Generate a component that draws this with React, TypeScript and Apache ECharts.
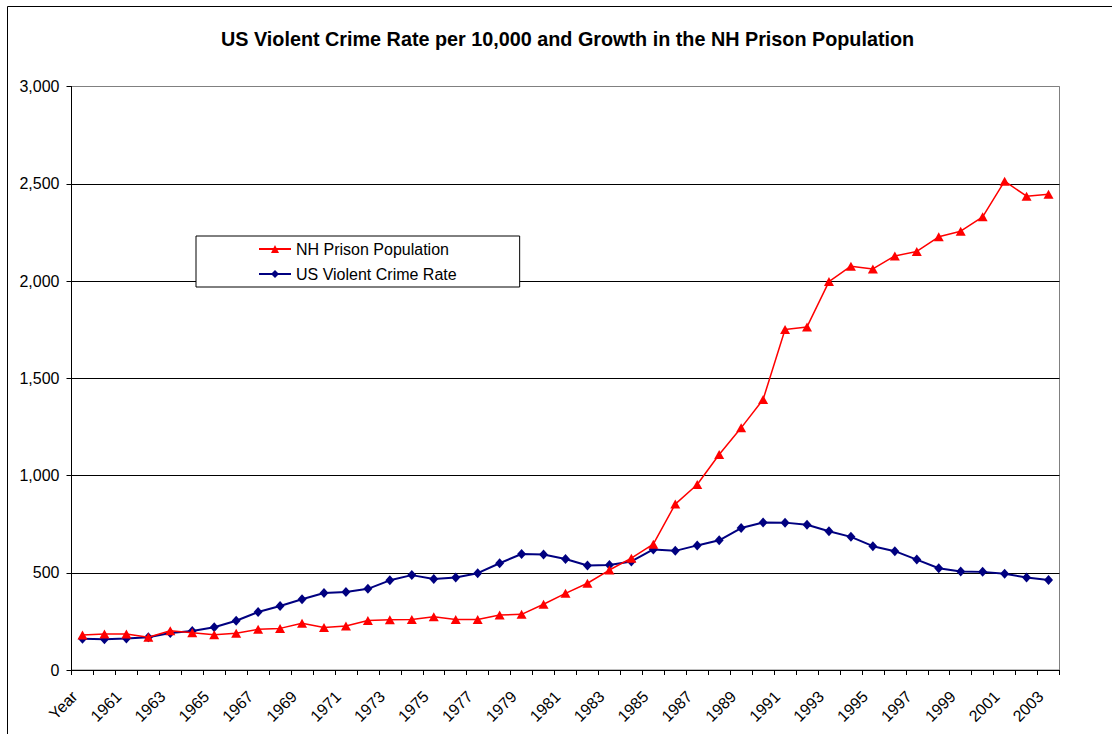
import React, { useEffect, useRef } from "react";
import * as echarts from "echarts";

const title = "US Violent Crime Rate per 10,000 and Growth in the NH Prison Population";

const categories = [
  "Year", "1960", "1961", "1962", "1963", "1964", "1965", "1966", "1967", "1968",
  "1969", "1970", "1971", "1972", "1973", "1974", "1975", "1976", "1977", "1978",
  "1979", "1980", "1981", "1982", "1983", "1984", "1985", "1986", "1987", "1988",
  "1989", "1990", "1991", "1992", "1993", "1994", "1995", "1996", "1997", "1998",
  "1999", "2000", "2001", "2002", "2003",
];

const nhPrison = [
  180, 185, 185, 168, 202, 192, 181, 189, 209, 214,
  240, 219, 226, 255, 258, 260, 274, 260, 260, 283,
  286, 338, 394, 446, 514, 575, 647, 853, 954, 1108,
  1245, 1391, 1751, 1764, 1997, 2076, 2062, 2129, 2152, 2227,
  2256, 2330, 2513, 2436, 2446,
];

const usCrime = [
  160.9, 158.1, 162.3, 168.2, 190.6, 200.2, 220.0, 253.2, 298.4, 328.7,
  363.5, 396.0, 401.0, 417.4, 461.1, 487.8, 467.8, 475.9, 497.8, 548.9,
  596.6, 594.3, 571.1, 537.7, 539.9, 558.1, 620.1, 612.5, 640.6, 666.9,
  729.6, 758.2, 757.7, 747.1, 713.6, 684.5, 636.6, 611.0, 567.6, 523.0,
  506.5, 504.5, 494.4, 475.8, 463.2,
];

const seriesNames = ["NH Prison Population", "US Violent Crime Rate"];
const yMin = 0;
const yMax = 3000;
const yStep = 500;

const FONT = "'Liberation Sans', Arial, Helvetica, sans-serif";

export default function App() {
  const ref = useRef<HTMLDivElement>(null);

  useEffect(() => {
    if (!ref.current) return;
    const chart = echarts.init(ref.current, undefined, { renderer: "svg" });
    chart.setOption({
      animation: false,
      backgroundColor: "#ffffff",
      textStyle: { fontFamily: FONT },
      title: {
        text: title,
        left: 216,
        top: 24,
        textStyle: { fontFamily: FONT, fontSize: 19.8, fontWeight: "bold", color: "#000" },
      },
      graphic: [
        {
          type: "rect",
          shape: { x: 7.5, y: 6.5, width: 1200, height: 800 },
          style: { fill: "none", stroke: "#000", lineWidth: 1 },
          silent: true,
          z: -1,
        },
      ],
      legend: {
        data: seriesNames,
        orient: "vertical",
        left: 196,
        top: 236,
        padding: [5, 63, 5, 62],
        itemWidth: 32,
        itemHeight: 10,
        itemGap: 9,
        backgroundColor: "#ffffff",
        borderColor: "#000",
        borderWidth: 1,
        borderRadius: 0,
        textStyle: { fontFamily: FONT, fontSize: 16, color: "#000", lineHeight: 16 },
      },
      grid: {
        left: 71.5,
        top: 86.5,
        right: 52.5,
        bottom: 64,
        show: true,
        borderColor: "#808080",
        borderWidth: 1,
        backgroundColor: "#ffffff",
        outerBoundsMode: "none",
        containLabel: false,
      },
      xAxis: {
        type: "category",
        data: categories,
        boundaryGap: true,
        axisLine: { show: true, lineStyle: { color: "#000", width: 1 } },
        axisTick: { show: true, interval: 0, length: 5, lineStyle: { color: "#000" } },
        axisLabel: {
          interval: 1,
          rotate: 45,
          margin: 16,
          padding: [0, 11, 0, 0],
          fontFamily: FONT,
          fontSize: 16,
          color: "#000",
        },
        splitLine: { show: false },
      },
      yAxis: {
        type: "value",
        min: yMin,
        max: yMax,
        interval: yStep,
        axisLine: { show: true, lineStyle: { color: "#000", width: 1 } },
        axisTick: { show: true, length: 5, lineStyle: { color: "#000" } },
        axisLabel: {
          margin: 12,
          fontFamily: FONT,
          fontSize: 16,
          color: "#000",
          formatter: (v: number) => v.toLocaleString("en-US"),
        },
        splitLine: {
          show: true,
          lineStyle: {
            color: ["#000", "#000", "#000", "#000", "#000", "#000", "#808080"],
            width: 1,
          },
        },
      },
      series: [
        {
          name: seriesNames[1],
          type: "line",
          data: usCrime,
          symbol: "diamond",
          symbolSize: [9, 10],
          lineStyle: { color: "#000080", width: 2 },
          itemStyle: { color: "#000080" },
          z: 2,
        },
        {
          name: seriesNames[0],
          type: "line",
          data: nhPrison,
          symbol: "triangle",
          symbolSize: [10, 9],
          lineStyle: { color: "#ff0000", width: 1.5 },
          itemStyle: { color: "#ff0000" },
          z: 3,
        },
      ],
    });
    return () => chart.dispose();
  }, []);

  return (
    <div
      ref={ref}
      style={{ position: "fixed", left: 0, top: 0, width: 1112, height: 734 }}
    />
  );
}
